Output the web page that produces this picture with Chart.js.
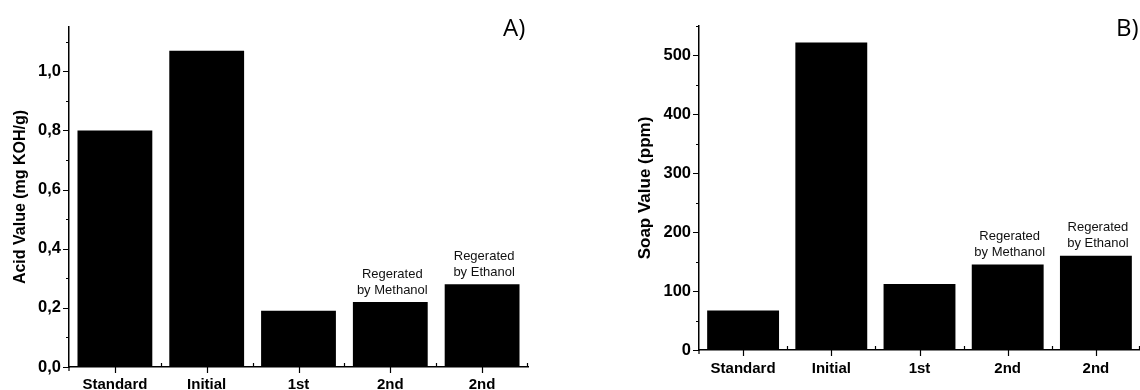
<!DOCTYPE html>
<html>
<head>
<meta charset="utf-8">
<script src="https://cdn.jsdelivr.net/npm/chart.js@4.4.1/dist/chart.umd.min.js"></script>
<style>
    html, body { margin: 0; padding: 0; background: #fff; }
    #wrap { position: relative; width: 1140px; height: 390px; overflow: hidden; }
    .panel { position: absolute; top: 0; width: 570px; height: 390px; }
    .tag { position: absolute; top: 10px; font-family: "Open Sans", sans-serif; font-size: 24px; color: #000; }
</style>
</head>
<body>
<div id="wrap">
    <div class="panel" style="left:0"><canvas id="chartA" width="570" height="390"></canvas></div>
    <div class="panel" style="left:570px"><canvas id="chartB" width="570" height="390"></canvas></div>
    <div class="tag" style="left:503px">A)</div>
    <div class="tag" style="left:1116px">B)</div>
</div>
<script>
// --- data ---
const categories = ['Standard', 'Initial', '1st', '2nd', '2nd'];
const acidValues = [0.80, 1.07, 0.19, 0.22, 0.28];
const soapValues = [67, 522, 112, 145, 160];
const barNotes = ['', '', '', 'Regerated\nby Methanol', 'Regerated\nby Ethanol'];

const acidTicks = { max: 1.15, major: 0.2, minor: 0.1 };
const soapTicks = { max: 550, major: 100, minor: 50 };

// small plugin: tick marks (Origin style) + notes above bars
const originTicks = {
    id: 'originTicks',
    afterDraw(chart, args, opts) {
        const ctx = chart.ctx;
        const x = chart.scales.x, y = chart.scales.y;
        const area = chart.chartArea;
        ctx.save();
        ctx.strokeStyle = '#000';
        ctx.lineWidth = 1.2;
        ctx.beginPath();
        // y ticks, pointing out
        for (let v = 0; v <= opts.max + 1e-9; v += opts.minor) {
            const py = Math.round(y.getPixelForValue(v)) + 0.5;
            const isMajor = Math.abs(v / opts.major - Math.round(v / opts.major)) < 1e-6;
            ctx.moveTo(area.left - (isMajor ? 6 : 3), py);
            ctx.lineTo(area.left, py);
        }
        // x ticks: centers down, boundaries up
        for (let i = 0; i < categories.length; i++) {
            const cx = Math.round(x.getPixelForValue(i)) + 0.5;
            ctx.moveTo(cx, area.bottom);
            ctx.lineTo(cx, area.bottom + 6);
            if (i > 0) {
                const bx = Math.round((x.getPixelForValue(i - 1) + x.getPixelForValue(i)) / 2) + 0.5;
                ctx.moveTo(bx, area.bottom);
                ctx.lineTo(bx, area.bottom - 4);
            }
        }
        const last = x.getPixelForValue(categories.length - 1);
        const bEnd = Math.round(last + (last - x.getPixelForValue(categories.length - 2)) / 2) - 0.5;
        ctx.moveTo(bEnd, area.bottom);
        ctx.lineTo(bEnd, area.bottom - 4);
        // y axis sticks a little below x axis
        ctx.moveTo(area.left, area.bottom);
        ctx.lineTo(area.left, area.bottom + 4);
        ctx.stroke();

        // notes over bars
        const meta = chart.getDatasetMeta(0);
        ctx.fillStyle = '#111';
        ctx.font = '13px "Liberation Sans", Arial, sans-serif';
        ctx.textAlign = 'center';
        ctx.textBaseline = 'middle';
        barNotes.forEach((note, i) => {
            if (!note) return;
            const bar = meta.data[i];
            const lines = note.split('\n');
            lines.forEach((line, k) => {
                const ly = bar.y - 12 - (lines.length - 1 - k) * 16;
                ctx.fillText(line, bar.x + 2, ly);
            });
        });
        ctx.restore();
    }
};

function makeChart(id, values, ticksDef, opts) {
    return new Chart(document.getElementById(id), {
        type: 'bar',
        data: {
            labels: categories,
            datasets: [{
                data: values,
                backgroundColor: '#000',
                borderWidth: 0,
                barPercentage: 1,
                categoryPercentage: 0.815
            }]
        },
        options: {
            responsive: false,
            animation: false,
            events: [],
            layout: { padding: opts.padding },
            plugins: {
                legend: { display: false },
                tooltip: { enabled: false },
                originTicks: ticksDef
            },
            scales: {
                x: {
                    grid: { display: false, drawTicks: false },
                    border: { color: '#000', width: 1.5 },
                    ticks: {
                        color: '#000',
                        padding: opts.xPad,
                        maxRotation: 0,
                        autoSkip: false,
                        font: { family: '"Liberation Sans", Arial, sans-serif', size: 15, weight: 'bold' }
                    },
                    afterFit: s => { s.height = opts.xHeight; }
                },
                y: {
                    min: 0,
                    max: ticksDef.max,
                    grid: { display: false, drawTicks: false },
                    border: { color: '#000', width: 1.5 },
                    ticks: {
                        stepSize: ticksDef.major,
                        includeBounds: false,
                        color: '#000',
                        padding: 8,
                        font: { family: '"Liberation Sans", Arial, sans-serif', size: 16.5, weight: 'bold' },
                        callback: opts.fmt
                    },
                    title: {
                        display: true,
                        text: opts.title,
                        color: '#000',
                        padding: { top: opts.titlePad, bottom: 0 },
                        font: { family: '"Liberation Sans", Arial, sans-serif', size: opts.titleSize, weight: 'bold' }
                    },
                    afterFit: s => { s.width = opts.yWidth; }
                }
            }
        },
        plugins: [originTicks]
    });
}

makeChart('chartA', acidValues, acidTicks, {
    padding: { left: 0, top: 27, right: 42, bottom: 0 },
    yWidth: 69, xHeight: 23, xPad: 9,
    title: 'Acid Value (mg KOH/g)', titleSize: 16, titlePad: 11,
    fmt: v => v.toFixed(1).replace('.', ',')
});

makeChart('chartB', soapValues, soapTicks, {
    padding: { left: 0, top: 26, right: 0, bottom: 0 },
    yWidth: 129, xHeight: 40, xPad: 10,
    title: 'Soap Value (ppm)', titleSize: 17, titlePad: 65,
    fmt: v => String(Math.round(v))
});
</script>
</body>
</html>
